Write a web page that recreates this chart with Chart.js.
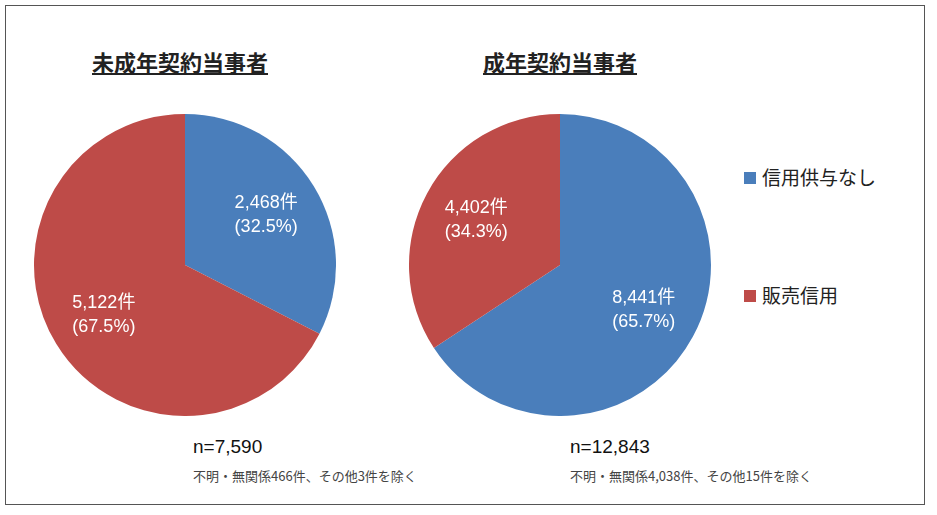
<!DOCTYPE html>
<html><head><meta charset="utf-8">
<script src="https://cdn.jsdelivr.net/npm/chart.js@4"></script>
<style>
body{margin:0;background:#fff;font-family:"Noto Sans CJK JP",sans-serif;}
#frame{position:absolute;left:5px;top:5px;width:918px;height:498px;border:1px solid #555;}
.abs{position:absolute;}
.title{font-size:22px;font-weight:bold;text-decoration:underline;color:#222;transform:translateX(-50%);white-space:nowrap;}
.leg{font-size:19px;color:#222;}
.sw{width:12px;height:12px;}
.n{font-size:19px;color:#111;font-family:"Liberation Sans",sans-serif;}
.note{font-size:13px;color:#444;font-family:"Noto Sans CJK JP",serif;}
</style></head><body>
<div id="frame"></div>
<div class="abs title" style="left:180px;top:45px">未成年契約当事者</div>
<div class="abs title" style="left:560px;top:45px">成年契約当事者</div>
<div class="abs" style="left:34px;top:114px;width:302px;height:302px"><canvas id="c1"></canvas></div>
<div class="abs" style="left:409px;top:114px;width:302px;height:302px"><canvas id="c2"></canvas></div>
<div class="abs sw" style="left:744px;top:172px;background:#4A7EBB"></div>
<div class="abs leg" style="left:762px;top:163px">信用供与なし</div>
<div class="abs sw" style="left:744px;top:290px;background:#BE4B48"></div>
<div class="abs leg" style="left:762px;top:281px">販売信用</div>
<div class="abs n" style="left:193px;top:436px">n=7,590</div>
<div class="abs note" style="left:193px;top:466px">不明・無関係466件、その他3件を除く</div>
<div class="abs n" style="left:570px;top:436px">n=12,843</div>
<div class="abs note" style="left:570px;top:466px">不明・無関係4,038件、その他15件を除く</div>
<script>
const categories = ["信用供与なし", "販売信用"];
const minorCounts = [2468, 5122];
const minorPct = [32.5, 67.5];
const adultCounts = [8441, 4402];
const adultPct = [65.7, 34.3];
const colors = ["#4A7EBB", "#BE4B48"];

const labelPlugin = {
  id: "sliceLabels",
  afterDatasetsDraw(chart) {
    const ctx = chart.ctx;
    const meta = chart.getDatasetMeta(0);
    const ds = chart.data.datasets[0];
    ctx.save();
    ctx.fillStyle = "#fff";
    ctx.font = '18px "Liberation Sans", "Noto Sans CJK JP", sans-serif';
    ctx.textAlign = "center";
    ctx.textBaseline = "middle";
    meta.data.forEach((arc, i) => {
      const mid = (arc.startAngle + arc.endAngle) / 2;
      const r = arc.outerRadius * 0.63;
      const x = arc.x + Math.cos(mid) * r;
      const y = arc.y + Math.sin(mid) * r;
      ctx.fillText(ds.data[i].toLocaleString("en-US") + "件", x, y - 12);
      ctx.fillText("(" + ds.pct[i].toFixed(1) + "%)", x, y + 12);
    });
    ctx.restore();
  }
};

function makePie(id, counts, pct) {
  new Chart(document.getElementById(id), {
    type: "pie",
    data: { labels: categories, datasets: [{ data: counts, pct: pct, backgroundColor: colors, borderWidth: 0 }] },
    options: {
      responsive: true, maintainAspectRatio: false, animation: false,
      plugins: { legend: { display: false }, tooltip: { enabled: false } }
    },
    plugins: [labelPlugin]
  });
}
makePie("c1", minorCounts, minorPct);
makePie("c2", adultCounts, adultPct);
</script>
</body></html>
